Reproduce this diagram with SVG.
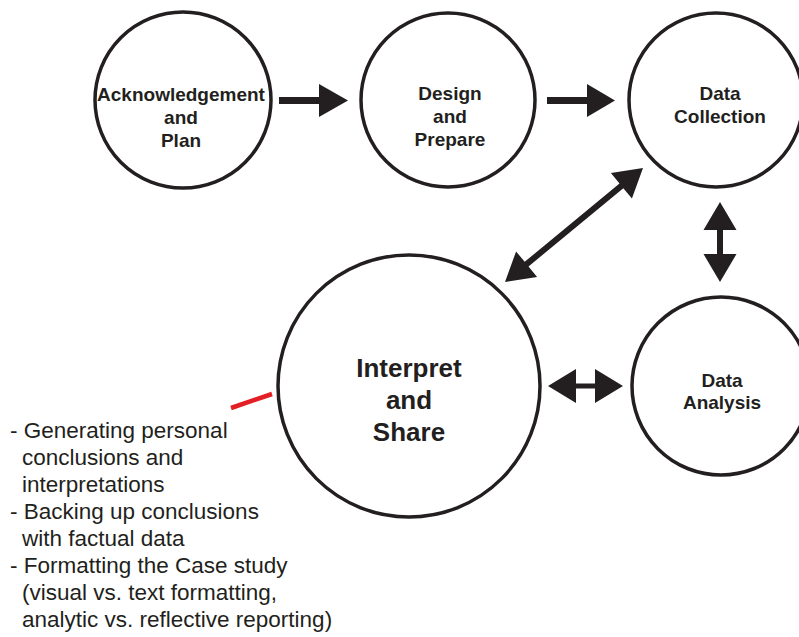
<svg xmlns="http://www.w3.org/2000/svg" width="799" height="637" viewBox="0 0 799 637">
  <style>
    .node { fill: #ffffff; stroke: #231f20; stroke-width: 3.5; }
    .label { font-family: "Liberation Sans", Arial, sans-serif; font-weight: bold; fill: #231f20; text-anchor: middle; }
    .small { font-size: 19px; }
    .big { font-size: 26px; }
    .arrow { fill: #231f20; stroke: none; }
    .note { font-family: "Liberation Sans", Arial, sans-serif; font-size: 22.5px; fill: #231f20; }
  </style>
  <rect width="799" height="637" fill="#ffffff"/>

  <g id="connectors">
    <!-- Acknowledgement -> Design -->
    <rect class="arrow" x="279" y="97" width="41" height="7"/>
    <polygon class="arrow" points="319,84 348,100.5 319,117"/>
    <!-- Design -> Data Collection -->
    <rect class="arrow" x="547" y="97" width="41" height="7"/>
    <polygon class="arrow" points="587,84 615,100.5 587,117"/>
    <!-- Data Collection <-> Interpret -->
    <polygon class="arrow" transform="translate(574 225) rotate(-39.56)"
      points="-89.5,0 -61.5,-16.5 -61.5,-3 61.5,-3 61.5,-16.5 89.5,0 61.5,16.5 61.5,3 -61.5,3 -61.5,16.5"/>
    <!-- Data Collection <-> Data Analysis -->
    <polygon class="arrow" points="720,202 736.5,230 723,230 723,254 736.5,254 720,282 703.5,254 717,254 717,230 703.5,230"/>
    <!-- Interpret <-> Data Analysis -->
    <polygon class="arrow" points="548,386 576,369 576,383.5 595,383.5 595,369 623,386 595,403 595,388.5 576,388.5 576,403"/>
    <!-- callout tick to the notes -->
    <line x1="231" y1="408" x2="272" y2="394" stroke="#e31e24" stroke-width="4.5"/>
  </g>

  <g id="node-acknowledge">
    <circle class="node" cx="183" cy="100" r="88"/>
    <text class="label small" x="181" y="101">Acknowledgement</text>
    <text class="label small" x="181" y="124">and</text>
    <text class="label small" x="181" y="147">Plan</text>
  </g>

  <g id="node-design">
    <circle class="node" cx="448" cy="100" r="87"/>
    <text class="label small" x="450" y="100">Design</text>
    <text class="label small" x="450" y="123">and</text>
    <text class="label small" x="450" y="146">Prepare</text>
  </g>

  <g id="node-collection">
    <circle class="node" cx="716" cy="100" r="87"/>
    <text class="label small" x="720" y="100">Data</text>
    <text class="label small" x="720" y="123">Collection</text>
  </g>

  <g id="node-analysis">
    <circle class="node" cx="721" cy="386" r="89"/>
    <text class="label small" x="722" y="387">Data</text>
    <text class="label small" x="722" y="409">Analysis</text>
  </g>

  <g id="node-interpret">
    <circle class="node" cx="409" cy="386" r="131"/>
    <text class="label big" x="409" y="377">Interpret</text>
    <text class="label big" x="409" y="409">and</text>
    <text class="label big" x="409" y="441">Share</text>
  </g>

  <g id="notes">
    <text class="note" x="10" y="438">- Generating personal</text>
    <text class="note" x="22" y="465">conclusions and</text>
    <text class="note" x="22" y="492">interpretations</text>
    <text class="note" x="10" y="519">- Backing up conclusions</text>
    <text class="note" x="22" y="546">with factual data</text>
    <text class="note" x="10" y="573">- Formatting the Case study</text>
    <text class="note" x="22" y="600">(visual vs. text formatting,</text>
    <text class="note" x="22" y="627">analytic vs. reflective reporting)</text>
  </g>
</svg>
